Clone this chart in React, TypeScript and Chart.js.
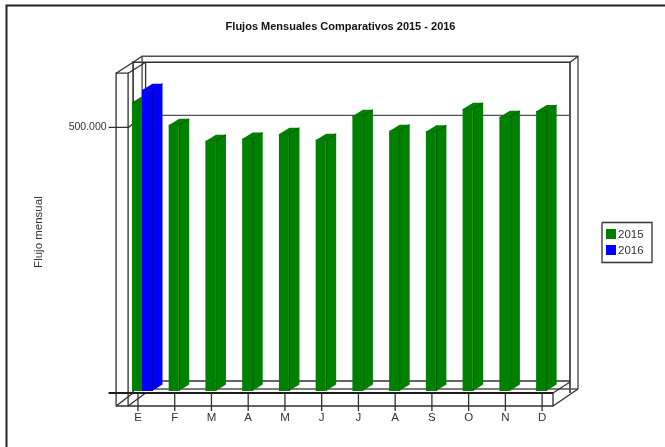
import React, { useEffect, useRef } from "react";
import { Chart, registerables } from "chart.js";

Chart.register(...registerables);

const months = ["E", "F", "M", "A", "M", "J", "J", "A", "S", "O", "N", "D"];
const flow2015 = [543000, 500000, 470000, 474000, 483000, 472000, 517000, 489000, 488000, 530000, 515000, 526000];
const flow2016: (number | null)[] = [566000, null, null, null, null, null, null, null, null, null, null, null];
const yTickValues = [0, 500000];
const chartTitle = "Flujos Mensuales Comparativos 2015 - 2016";
const yTitle = "Flujo mensual";
const FONT = "'Liberation Sans', Arial, sans-serif";
const LINE = "#303030";

const seg = (ctx: CanvasRenderingContext2D, pts: number[], w = 1.3, c = LINE) => {
  ctx.beginPath();
  ctx.lineWidth = w;
  ctx.strokeStyle = c;
  ctx.moveTo(pts[0], pts[1]);
  for (let i = 2; i < pts.length; i += 2) ctx.lineTo(pts[i], pts[i + 1]);
  ctx.stroke();
};

const frame3d = {
  id: "frame3d",
  afterLayout(chart: any) {
    const t = chart.titleBlock;
    if (t) {
      t.left -= 3.5;
      t.right -= 3.5;
    }
  },
  beforeDatasetsDraw(chart: any) {
    const { ctx, chartArea: a, scales } = chart;
    const y = scales.y;
    const x = scales.x;
    const l = a.left, r = a.right, t = a.top, b = a.bottom;
    ctx.save();
    // page border
    seg(ctx, [6.5, 447, 6.5, 5.5, 665, 5.5], 2, "#222");

    const y0 = y.getPixelForValue(0);
    const y5 = y.getPixelForValue(500000);
    const xL1 = l - 7.5, xL2 = l + 4.5, xB1 = l + 9.5, xB2 = l + 18.5, xB3 = l + 22;
    const xR0 = r - 11.5, xR1 = r + 5.5, xR2 = r + 13.5;
    const yT1 = t - 11, yT2 = t - 17;

    // back walls
    seg(ctx, [xB1, b + 2, xB1, yT1, xR1, yT1, xR1, b + 2], 1.6);
    seg(ctx, [xB2, b - 2, xB2, yT2, xR2, yT2, xR2, b - 2], 1.4, "#505050");
    seg(ctx, [xB3, b, xB3, yT1]);
    seg(ctx, [xR1, yT1, xR2, yT2]);
    seg(ctx, [xB1, yT1, xB2, yT2]);
    // floor
    seg(ctx, [xB1, y0 - 10, xR1, y0 - 10]);
    seg(ctx, [xB1, y0 - 2, xR2, y0 - 2], 1.4, "#505050");
    // 500.000 gridline at the back, tick at the front
    seg(ctx, [xB1, y5 - 10, xR1, y5 - 10], 1.3, "#505050");
    seg(ctx, [l - 15, y5 + 2, l + 5, y5 + 2, l + 10, y5 - 2]);
    // front-left wall
    seg(ctx, [xL1, b + 15, xL1, t, xL2, t, xL2, b + 15]);
    seg(ctx, [xL1, t, xB1, yT1]);
    seg(ctx, [xL2, t, xB3, yT1]);
    // front floor
    seg(ctx, [xL1, b + 15, xR0, b + 15, xR0, b + 2]);
    seg(ctx, [xL1, b + 15, xB1, b + 2]);
    seg(ctx, [xL2, b + 15, xB3, b + 2]);
    seg(ctx, [xR0, b + 15, xR2, b - 2]);
    seg(ctx, [xR0, b + 2, xR1, b - 9]);
    seg(ctx, [l - 15, b + 2, xR0, b + 2], 1.9, "#1c1c1c");
    // x ticks
    x.ticks.forEach((_: any, i: number) => {
      const px = x.getPixelForTick(i) - 4;
      seg(ctx, [px, b + 2, px, b + 20]);
    });

    // side and top faces of each bar
    const dx = 10.5, dy = 6.5;
    chart.data.datasets.forEach((ds: any, di: number) => {
      const meta = chart.getDatasetMeta(di);
      meta.data.forEach((el: any, i: number) => {
        if (ds.data[i] == null) return;
        const p = el.getProps(["x", "y", "base", "width"], true);
        const x0 = p.x - p.width / 2, x1 = p.x + p.width / 2;
        ctx.fillStyle = ds.backgroundColor;
        ctx.beginPath();
        ctx.moveTo(x1, p.base);
        ctx.lineTo(x1 + dx, p.base - dy);
        ctx.lineTo(x1 + dx, p.y - dy);
        ctx.lineTo(x0 + dx, p.y - dy);
        ctx.lineTo(x0, p.y);
        ctx.lineTo(x1, p.y);
        ctx.closePath();
        ctx.fill();
        seg(ctx, [x0, p.y, x1, p.y, x1 + dx, p.y - dy], 1, ds.edgeColor);
        seg(ctx, [x1 + 0.5, p.y, x1 + 0.5, p.base], 1, ds.edgeColor);
      });
    });
    ctx.restore();
  },
  afterDraw(chart: any) {
    const { ctx, chartArea: a } = chart;
    const boxL = a.right + 37.5, boxT = 222.5;
    ctx.save();
    ctx.fillStyle = "#fff";
    ctx.fillRect(boxL, boxT, 50, 40);
    seg(ctx, [boxL, boxT, boxL + 50, boxT, boxL + 50, boxT + 40, boxL, boxT + 40, boxL, boxT], 1.3, "#333");
    ctx.font = `11.5px ${FONT}`;
    ctx.textBaseline = "middle";
    chart.data.datasets.forEach((ds: any, i: number) => {
      const cy = boxT + 11.5 + i * 16;
      ctx.fillStyle = ds.backgroundColor;
      ctx.fillRect(boxL + 4, cy - 5, 10, 10);
      ctx.fillStyle = "#333";
      ctx.fillText(ds.label, boxL + 16, cy + 0.5);
    });
    ctx.restore();
  },
};

export default function App() {
  const ref = useRef<HTMLCanvasElement>(null);
  useEffect(() => {
    const chart = new Chart(ref.current!, {
      type: "bar",
      data: {
        labels: months,
        datasets: [
          { label: "2015", data: flow2015, backgroundColor: "#008000", edgeColor: "#005800" } as any,
          { label: "2016", data: flow2016, backgroundColor: "#0000ff", edgeColor: "#0000a8" } as any,
        ],
      },
      plugins: [frame3d as any],
      options: {
        responsive: false,
        animation: false,
        devicePixelRatio: 1,
        layout: { padding: { left: 32, right: 100.5, top: 0, bottom: 22 } },
        datasets: { bar: { barPercentage: 1, categoryPercentage: 0.546 } },
        plugins: {
          legend: { display: false },
          tooltip: { enabled: false },
          title: {
            display: true,
            text: chartTitle,
            fullSize: false,
            color: "#111",
            font: { family: FONT, size: 11, weight: "bold" },
            padding: { top: 20, bottom: 40 },
          },
        },
        scales: {
          x: {
            afterFit: (s: any) => { s.height = 34; },
            grid: { display: false },
            border: { display: false },
            ticks: {
              color: "#333",
              font: { family: FONT, size: 11.5 },
              padding: 12,
              labelOffset: -4,
              autoSkip: false,
              maxRotation: 0,
            },
          },
          y: {
            min: 0,
            max: 598000,
            afterFit: (s: any) => { s.width = 91.6; },
            afterBuildTicks: (s: any) => { s.ticks = yTickValues.map((value) => ({ value })); },
            grid: { display: false },
            border: { display: false },
            ticks: {
              color: "#333",
              font: { family: FONT, size: 10.5 },
              padding: 9,
              labelOffset: 2,
              callback: (v: any) => (v === 500000 ? "500.000" : ""),
            },
            title: {
              display: true,
              text: yTitle,
              color: "#333",
              font: { family: FONT, size: 11.5 },
              padding: 0,
            },
          },
        },
      } as any,
    });
    return () => chart.destroy();
  }, []);
  return (
    <canvas
      ref={ref}
      width={665}
      height={447}
      style={{ position: "absolute", left: 0, top: 0, display: "block" }}
    />
  );
}
